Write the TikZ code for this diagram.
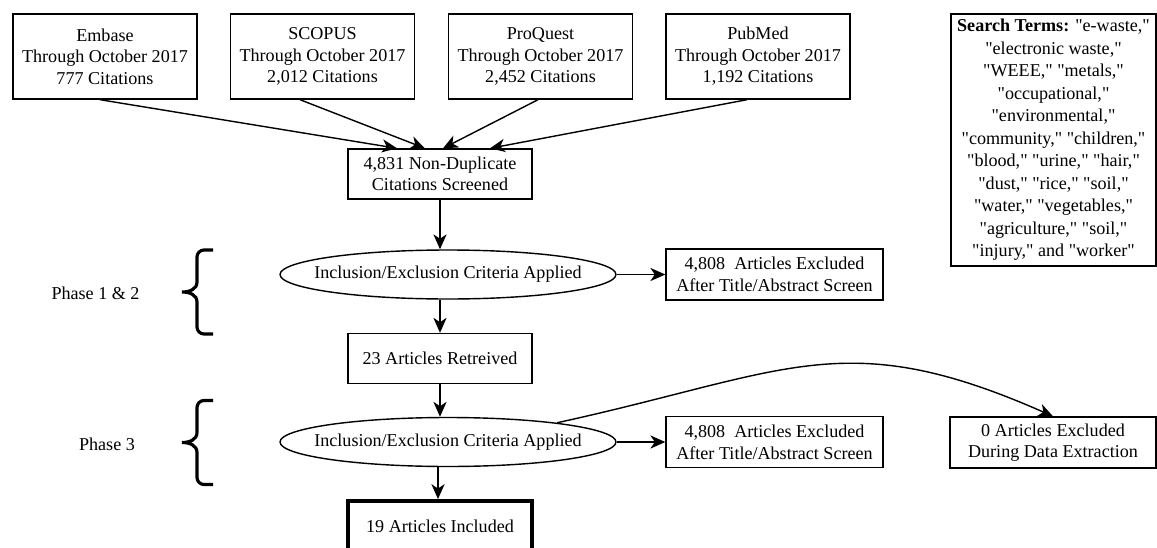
\documentclass[tikz,border=0pt]{standalone}
\usepackage{fontspec}
\setmainfont{Liberation Serif}[Ligatures=TeXOff]
\usetikzlibrary{arrows.meta,shapes.geometric}
\newcommand{\critlabel}{\makebox[0pt]{Inclusion/Exclusion Criteria Applied}}

\begin{document}
\begin{tikzpicture}[x=0.02cm,y=-0.02cm,
		font=\fontsize{10.3}{12.3}\selectfont,
		box/.style={draw,line width=0.8pt,align=center,inner sep=0pt,minimum width=3.68cm,minimum height=1cm},
		srcbox/.style={box,minimum height=1.7cm},
		oval/.style={draw,line width=0.8pt,ellipse,inner sep=0pt,minimum width=6.72cm,minimum height=0.98cm},
		outbox/.style={box,minimum width=4.34cm,minimum height=1.02cm},
		arr/.style={line width=0.8pt,-{Stealth[length=8.5pt,width=7.5pt,inset=2.5pt]}},
		phbrace/.style={line width=1.8pt}]
	\useasboundingbox (0,0) rectangle (1157,548);
	% Datenbanken
	\node[srcbox] (embase) at (105,56.5) {Embase\\Through October 2017\\777 Citations};
	\node[srcbox] (scopus) at (322.5,56.5) {SCOPUS\\Through October 2017\\2,012 Citations};
	\node[srcbox] (proquest) at (540.5,56.5) {ProQuest\\Through October 2017\\2,452 Citations};
	\node[srcbox] (pubmed) at (758,56.5) {PubMed\\Through October 2017\\1,192 Citations};
	% Suchbegriffe
	\node[box,minimum width=4.1cm,minimum height=5.04cm,font=\fontsize{10.3}{12.8}\selectfont] (terms) at (1053.5,140)
		{\textbf{Search Terms:} "e-waste,"\\"electronic waste,"\\"WEEE," "metals,"\\"occupational,"\\"environmental,"\\"community," "children,"\\"blood," "urine," "hair,"\\"dust," "rice," "soil,"\\"water," "vegetables,"\\"agriculture," "soil,"\\"injury," and "worker"};
	% Ablauf
	\node[box] (nondup) at (440,174) {4,831 Non-Duplicate\\Citations Screened};
	\node[oval] (crit1) at (448,274.5) {\critlabel};
	\node[outbox] (excl1) at (774.5,274.5) {4,808\ \ Articles Excluded\\After Title/Abstract Screen};
	\node[box] (retr) at (440,358.5) {23 Articles Retreived};
	\node[oval] (crit2) at (448,442) {\critlabel};
	\node[outbox] (excl2) at (774.5,442) {4,808\ \ Articles Excluded\\After Title/Abstract Screen};
	\node[box,minimum width=4.12cm,minimum height=1.02cm] (zerox) at (1053,442.5) {0 Articles Excluded\\During Data Extraction};
	\node[box,line width=2.2pt] (incl) at (440,526) {19 Articles Included};
	% Pfeile
	\draw[arr] ([xshift=-0.1cm]embase.south) -- ([xshift=-0.86cm]nondup.north);
	\draw[arr] ([xshift=-0.45cm]scopus.south) -- ([xshift=-0.3cm]nondup.north);
	\draw[arr] ([xshift=-0.05cm]proquest.south) -- ([xshift=0.06cm]nondup.north);
	\draw[arr] ([xshift=-0.22cm]pubmed.south) -- ([xshift=1cm]nondup.north);
	\draw[arr] (nondup.south) -- (nondup.south |- crit1.north);
	\draw[arr] (crit1) -- (excl1);
	\draw[arr] (retr.north |- crit1.south) -- (retr.north);
	\draw[arr] (retr.south) -- (retr.south |- crit2.north);
	\draw[arr] (crit2) -- (excl2);
	\draw[arr] (crit2.10) .. controls (789,372) and (844,324) .. (zerox.north);
	\draw[arr] ([xshift=-0.04cm]incl.north |- crit2.south) -- ([xshift=-0.04cm]incl.north);
	% Phasen
	\node (ph12) at (95.5,293) {Phase 1 \& 2};
	\node (ph3) at (107,444) {Phase 3};
	\foreach \m in {292,442.5}
		\draw[phbrace] (213,{\m-42}) -- (204,{\m-42}) arc[start angle=270,end angle=180,radius=7]
			-- (197,{\m-10}) .. controls (197,{\m-3}) and (190,\m) .. (182,\m)
			.. controls (190,\m) and (197,{\m+3}) .. (197,{\m+10})
			-- (197,{\m+35}) arc[start angle=180,end angle=90,radius=7] -- (213,{\m+42});
\end{tikzpicture}
\end{document}
